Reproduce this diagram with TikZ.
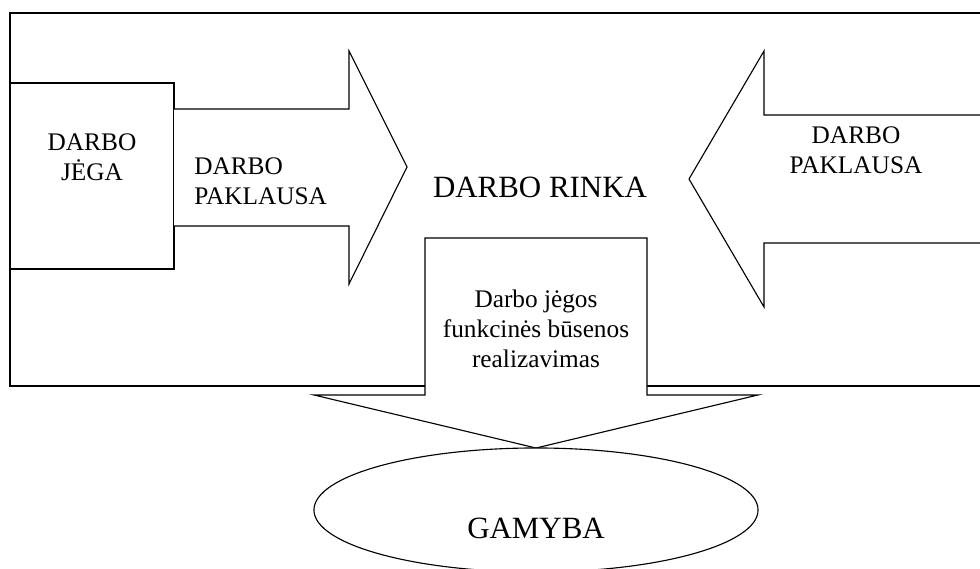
\documentclass[tikz,border=0pt]{standalone}
\usepackage{fontspec}
\setmainfont{Liberation Serif}
\usetikzlibrary{shapes.geometric, positioning}
\tikzset{
    outline/.style={draw=black, line width=0.8pt, fill=white, line join=miter},
    label/.style={font=\fontsize{18}{21.5}\selectfont, align=center, inner sep=0pt},
    biglabel/.style={font=\fontsize{22}{26}\selectfont, inner sep=0pt},
    market/.style={ellipse, draw=black, line width=0.8pt, fill=white,
        minimum width=11.1cm, minimum height=3.1cm, inner sep=0pt}
}
\begin{document}
\begin{tikzpicture}[x=0.025cm, y=-0.025cm]
\useasboundingbox (0,0) rectangle (980,569);
\clip (0,0) rectangle (980,569);

% labour market frame
\draw[outline, fill=none] (10,13) rectangle (1000,386);

% labour force box
\draw[outline] (10,83) rectangle (174,269);

% demand arrow from the left
\draw[outline] (174,109) -- (349,109) -- (349,51) -- (407,167)
    -- (349,284) -- (349,226) -- (174,226);

% demand arrow from the right
\draw[outline] (1000,115) -- (764,115) -- (764,51) -- (689,179)
    -- (764,307) -- (764,243) -- (1000,243);

% realisation arrow down to production
\draw[outline] (425,238) -- (647,238) -- (647,395) -- (758,395) -- (536,448)
    -- (314,395) -- (425,395) -- cycle;

% production
\node[market] (gamyba) at (536,510) {};
\node[biglabel] (gamybatxt) at (536,528) {GAMYBA};

% texts
\node[label] (jega) at (92,157) {DARBO\\JĖGA};
\node[label, align=left, anchor=west] (paklausaL) at (194,181) {DARBO\\PAKLAUSA};
\node[label] (paklausaR) at (856,150) {DARBO\\PAKLAUSA};
\node[biglabel] (rinka) at (540,187) {DARBO RINKA};
\node[label] (busena) at (536,329) {Darbo jėgos\\funkcinės būsenos\\realizavimas};

\end{tikzpicture}
\end{document}
